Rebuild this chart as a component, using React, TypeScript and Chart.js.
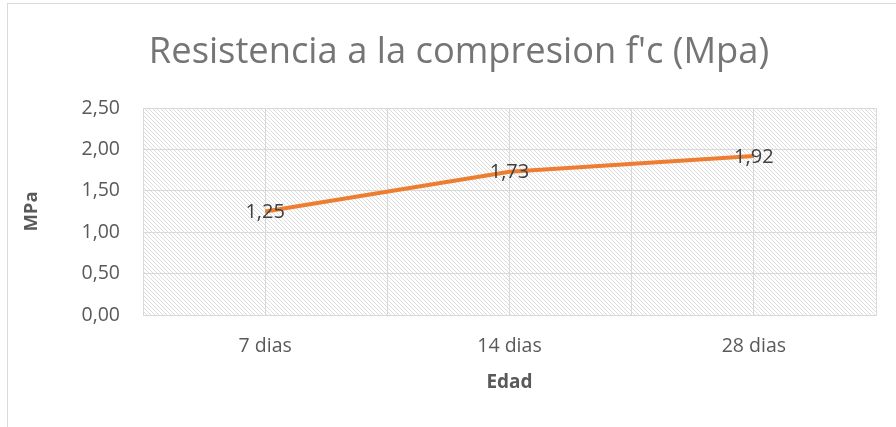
import React, { useEffect, useRef } from "react";
import { Chart, registerables } from "chart.js";

Chart.register(...registerables);

const categories = ["7 dias", "14 dias", "28 dias"];
const values = [1.25, 1.73, 1.92];
const yTicks = { min: 0, max: 2.5, step: 0.5 };
const titleText = "Resistencia a la compresion f'c (Mpa)";
const yTitle = "MPa";
const xTitle = "Edad";

const fmt = (v: number) => v.toFixed(2).replace(".", ",");

function makePattern(ctx: CanvasRenderingContext2D) {
  const c = document.createElement("canvas");
  const p = 4;
  c.width = p;
  c.height = p;
  const g = c.getContext("2d")!;
  g.fillStyle = "#ffffff";
  g.fillRect(0, 0, p, p);
  g.fillStyle = "#dcdcdc";
  for (let i = 0; i < p; i++) {
    g.fillRect(i, i, 1, 1);
  }
  return ctx.createPattern(c, "repeat");
}

const hatchPlugin = {
  id: "hatch",
  beforeDraw(chart: any) {
    const { ctx, chartArea } = chart;
    const pat = makePattern(ctx);
    if (!pat) return;
    ctx.save();
    ctx.fillStyle = pat;
    ctx.fillRect(chartArea.left, chartArea.top, chartArea.right - chartArea.left, chartArea.bottom - chartArea.top);
    ctx.restore();
  },
};

const titlePlugin = {
  id: "customTitle",
  afterDraw(chart: any) {
    const { ctx } = chart;
    ctx.save();
    ctx.font = "36.3px 'Open Sans', sans-serif";
    ctx.fillStyle = "#757575";
    ctx.textAlign = "center";
    ctx.textBaseline = "middle";
    ctx.fillText(titleText, 451, 49);
    ctx.restore();
  },
};

const labelPlugin = {
  id: "valueLabels",
  afterDatasetsDraw(chart: any) {
    const { ctx } = chart;
    const meta = chart.getDatasetMeta(0);
    ctx.save();
    ctx.font = "20px 'Open Sans', sans-serif";
    ctx.fillStyle = "#404040";
    ctx.textAlign = "center";
    ctx.textBaseline = "middle";
    meta.data.forEach((pt: any, i: number) => {
      ctx.fillText(fmt(values[i]), pt.x, pt.y + 1);
    });
    ctx.restore();
  },
};

export default function App() {
  const ref = useRef<HTMLCanvasElement>(null);
  useEffect(() => {
    if (!ref.current) return;
    const chart = new Chart(ref.current, {
      type: "line",
      data: {
        datasets: [
          {
            data: values.map((v, i) => ({ x: i, y: v })),
            borderColor: "#ED7D31",
            borderWidth: 4,
            pointRadius: 0,
            pointHoverRadius: 0,
            tension: 0,
            fill: false,
          },
        ],
      },
      options: {
        animation: false,
        responsive: false,
        layout: { padding: { left: 0, right: 17, top: 104, bottom: 0 } },
        plugins: {
          legend: { display: false },
          tooltip: { enabled: false },
          title: { display: false },
        },
        scales: {
          x: {
            type: "linear",
            min: -0.5,
            max: categories.length - 0.5,
            afterFit: (s: any) => {
              s.height = 112;
            },
            ticks: {
              stepSize: 0.5,
              autoSkip: false,
              maxRotation: 0,
              padding: 20,
              color: "#595959",
              font: { family: "'Open Sans', sans-serif", size: 19.5 },
              callback: (v: any) => {
                const n = Number(v);
                return Number.isInteger(n) && categories[n] !== undefined ? categories[n] : "";
              },
            },
            grid: { color: "#d9d9d9", lineWidth: 1, drawTicks: false },
            border: { color: "#d9d9d9", width: 1 },
            title: {
              display: true,
              text: xTitle,
              color: "#595959",
              font: { family: "'Open Sans', sans-serif", size: 19, weight: "bold", lineHeight: 1.2 },
              padding: { top: 0, bottom: 33 },
            },
          },
          y: {
            min: yTicks.min,
            max: yTicks.max,
            afterFit: (s: any) => {
              s.width = 135;
            },
            ticks: {
              stepSize: yTicks.step,
              padding: 23,
              color: "#595959",
              font: { family: "'Open Sans', sans-serif", size: 19.5 },
              callback: (v: any) => fmt(Number(v)),
            },
            grid: { color: "#d9d9d9", lineWidth: 1, drawTicks: false },
            border: { display: false },
            title: {
              display: true,
              text: yTitle,
              color: "#595959",
              font: { family: "'Open Sans', sans-serif", size: 18.5, weight: "bold", lineHeight: 1.2 },
              padding: { top: 13, bottom: 0 },
            },
          },
        },
      },
      plugins: [hatchPlugin, labelPlugin, titlePlugin],
    });
    return () => chart.destroy();
  }, []);
  return (
    <div
      style={{
        position: "fixed",
        left: 7,
        top: 3,
        width: 889,
        height: 424,
        borderLeft: "1px solid #d9d9d9",
        borderTop: "1px solid #d9d9d9",
        boxSizing: "border-box",
        background: "#fff",
      }}
    >
      <canvas ref={ref} width={888} height={423} style={{ display: "block" }} />
    </div>
  );
}
